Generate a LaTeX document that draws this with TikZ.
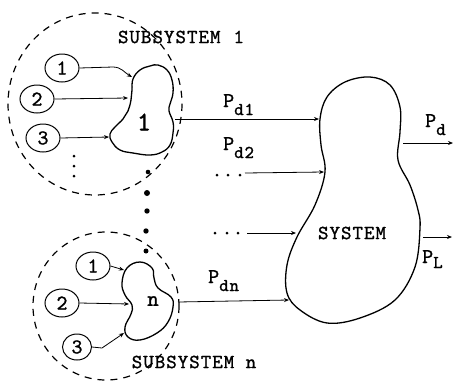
\documentclass[tikz,border=0pt]{standalone}
\usepackage{fontspec}
\newfontfamily\tyfont{lmmono10-regular}[Extension=.otf,LetterSpace=5,FakeBold=1.2]
\usetikzlibrary{arrows.meta,shapes.geometric}
\tikzset{
  arr/.style={line width=0.8pt,-{Stealth[length=5pt,width=4pt]}},
  blob/.style={line width=1.3pt},
  subsys/.style={line width=1.2pt,dash pattern=on 7pt off 6pt},
  num/.style={ellipse,draw,line width=1pt,minimum width=34pt,minimum height=28pt,inner sep=0pt,font=\tyfont\fontsize{21}{21}\selectfont},
  lbl/.style={font=\tyfont\fontsize{20}{20}\selectfont,inner sep=0pt},
  plbl/.style={font=\tyfont\fontsize{21}{21}\selectfont,inner sep=0pt,anchor=base west},
  bigdot/.style={fill=black},
}
\newcommand{\subd}[1]{\raisebox{-8pt}{\fontsize{18}{18}\selectfont #1}}
\begin{document}
\begin{tikzpicture}[x=1pt,y=-1pt]
\useasboundingbox (0,0) rectangle (453,381);
% subsystem boundaries
\draw[subsys] (95,104) ellipse [x radius=87,y radius=91];
\draw[subsys] (106,306) ellipse [x radius=73,y radius=74];
% subsystem titles
\node[lbl] (t1) at (181,37) {SUBSYSTEM\hspace{13pt}1};
\node[lbl] (tn) at (194,362) {SUBSYSTEM n};
% blob 1
\draw[blob] plot[smooth cycle,tension=0.7] coordinates {(140,70) (150,66) (158,65) (167,70) (172,80) (173,93) (170,104) (169,111) (173,122) (173,133) (170,145) (162,152) (150,155) (133,153) (120,150) (112,142) (110,134) (115,127) (123,119) (128,111) (131,100) (132,90) (133,79)};
\node[lbl,font=\tyfont\fontsize{27}{27}\selectfont] (b1) at (144,122) {1};
% blob n
\draw[blob] plot[smooth cycle,tension=0.7] coordinates {(127,268) (140,262) (152,268) (154,278) (158,288) (171,297) (173,307) (168,322) (157,333) (140,340) (128,337) (125,327) (131,314) (132,305) (125,295) (122,283)};
\node[lbl,font=\tyfont\fontsize{22}{22}\selectfont] (bn) at (153,301) {n};
% system blob
\draw[blob] plot[smooth cycle,tension=0.6] coordinates {(320,119) (327,97) (345,82) (370,77) (390,85) (400,107) (400,132) (398,160) (410,185) (418,210) (420,228) (415,267) (395,300) (360,318) (327,323) (300,310) (287,293) (287,265) (297,237) (315,205) (325,172) (321,145)};
\node[lbl] (sys) at (352,233) {SYSTEM};
% port coordinates
\coordinate (b1a) at (132,77);
\coordinate (b1b) at (128,98);
\coordinate (b1c) at (109,137);
\coordinate (b1out) at (175,119);
\coordinate (bna) at (124,270);
\coordinate (bnb) at (129,304);
\coordinate (bnc) at (124,333);
\coordinate (bnout) at (178,302);
\coordinate (s1) at (319,119);
\coordinate (s2) at (324,172);
\coordinate (s3) at (296,233);
\coordinate (sn) at (289,300);
\coordinate (sd) at (453,143);
\coordinate (sl) at (452,237);
\coordinate (sdfrom) at (403,143);
\coordinate (slfrom) at (423,237);
\coordinate (d2from) at (245,173);
\coordinate (d3from) at (247,233);
% input circles subsystem 1
\node[num] (c1) at (62,68) {1};
\node[num] (c2) at (37,99) {2};
\node[num] (c3) at (43,138) {3};
\draw[arr] (c1.east) -- (113,67) to[out=0,in=150] (b1a);
\draw[arr] (c2.east) -- (b1b);
\draw[arr] (c3.east) -- (b1c);
\foreach \yy in {156,166,176} \fill (74,\yy) circle (1.5);
% input circles subsystem n
\node[num] (c1n) at (93,266) {1};
\node[num] (c2n) at (62,303) {2};
\node[num,minimum width=29pt,minimum height=26pt] (c3n) at (77,347) {3};
\draw[arr] (c1n.east) -- (bna);
\draw[arr] (c2n.east) -- (bnb);
\draw[arr] (c3n.east) -- (102,348) -- (bnc);
% big dots between subsystems
\fill[bigdot] (148,172) circle (2.3);
\fill[bigdot] (147,193) circle (3);
\fill[bigdot] (147,211) circle (2.7);
\fill[bigdot] (146,231) circle (2.7);
\fill[bigdot] (146,251) circle (2.5);
% power flows
\draw[arr] (b1out) -- (s1);
\node[plbl] (pd1) at (223,107) {P\subd{d1}};
\node[plbl] (pd2) at (223,150) {P\subd{d2}};
\foreach \xx in {217,228,240} \fill (\xx,175) circle (1.5);
\draw[arr] (d2from) -- (s2);
\foreach \xx in {215,227,238} \fill (\xx,233) circle (1.5);
\draw[arr] (d3from) -- (s3);
\draw[arr] (bnout) -- (sn);
\node[plbl] (pdn) at (208,283) {P\subd{dn}};
\draw[arr] (sdfrom) -- (sd);
\node[plbl] (pd) at (425,127) {P\subd{d}};
\draw[arr] (slfrom) -- (sl);
\node[plbl] (pl) at (422,263) {P\raisebox{-5pt}{\fontsize{18}{18}\selectfont L}};
\end{tikzpicture}
\end{document}
